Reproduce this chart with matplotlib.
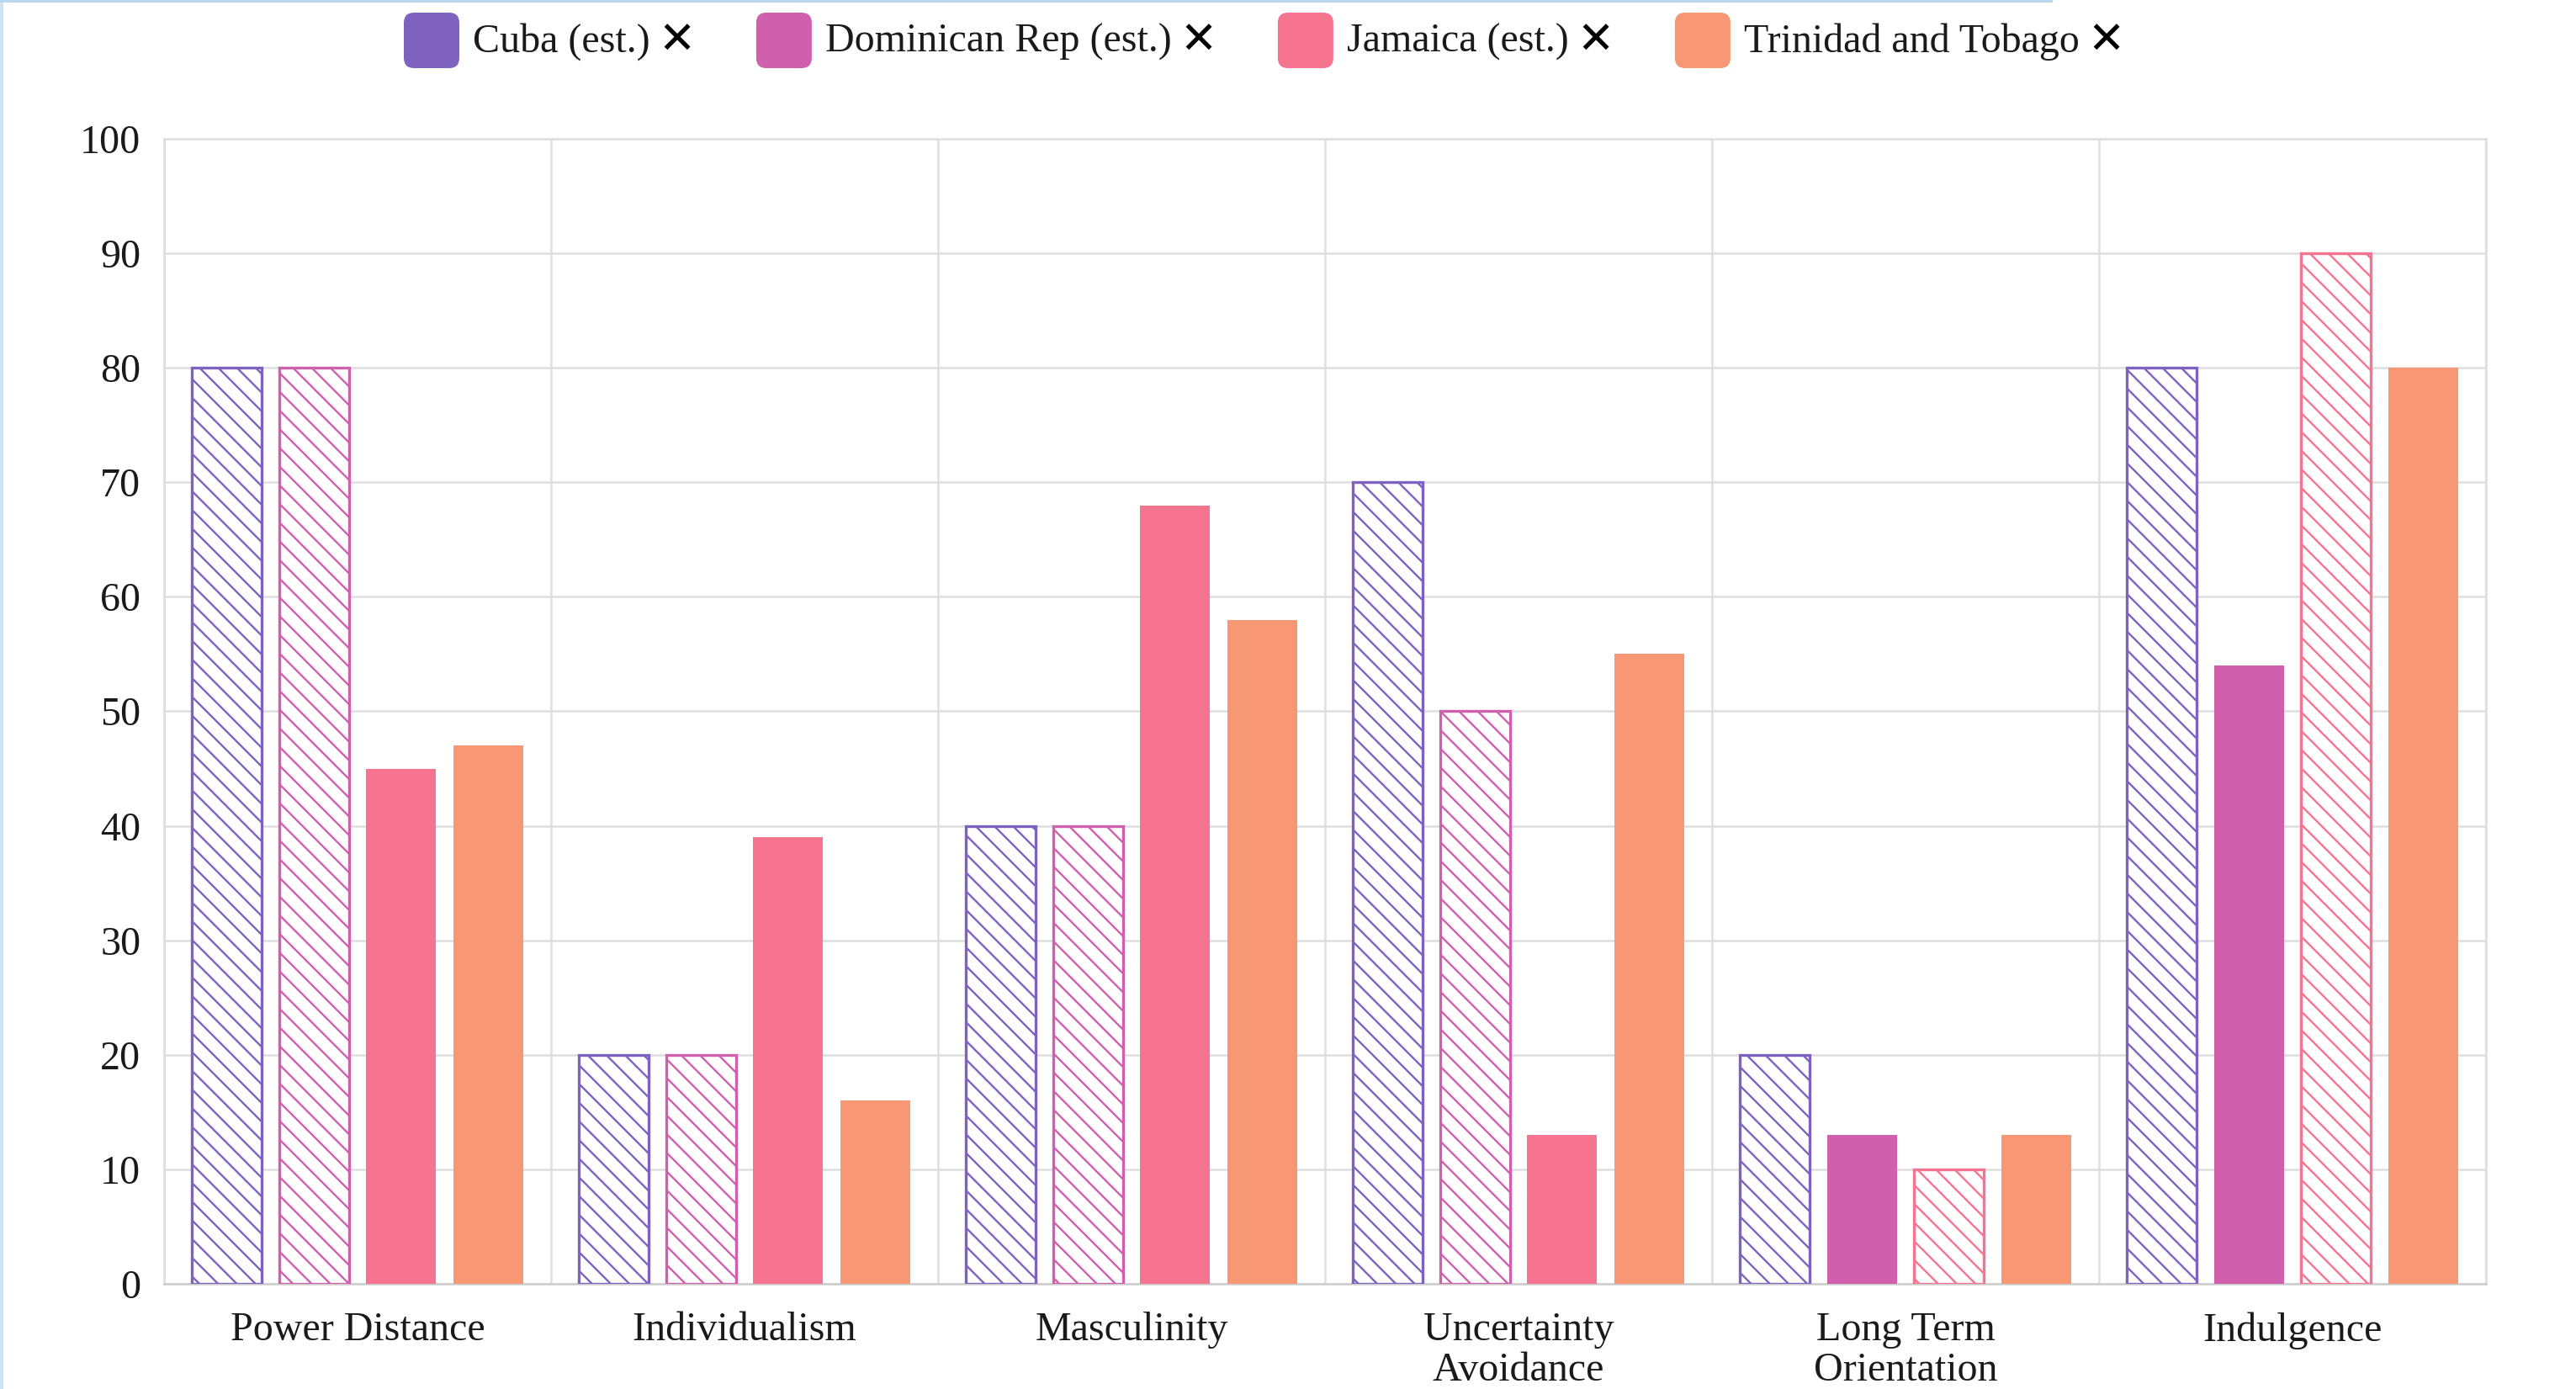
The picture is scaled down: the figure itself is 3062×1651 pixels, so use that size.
import matplotlib
matplotlib.use("Agg")
import matplotlib.pyplot as plt
import numpy as np
from matplotlib.patches import FancyBboxPatch, Rectangle

# ---- data -------------------------------------------------------------
categories = ["Power Distance", "Individualism", "Masculinity",
              "Uncertainty\nAvoidance", "Long Term\nOrientation", "Indulgence"]
series_names = ["Cuba (est.)", "Dominican Rep (est.)", "Jamaica (est.)",
                "Trinidad and Tobago"]
cuba = [80, 20, 40, 70, 20, 80]
dominican = [80, 20, 40, 50, 13, 54]
jamaica = [45, 39, 68, 13, 10, 90]
trinidad = [47, 16, 58, 55, 13, 80]
# True where the score is an estimate (drawn hatched)
cuba_est = [True, True, True, True, True, True]
dominican_est = [True, True, True, True, False, False]
jamaica_est = [False, False, False, False, True, True]
trinidad_est = [False, False, False, False, False, False]
y_ticks = [0, 10, 20, 30, 40, 50, 60, 70, 80, 90, 100]

colors = ["#7f62c0", "#d060ad", "#f77490", "#f89773"]

# ---- style ------------------------------------------------------------
FONT = ["Liberation Serif", "DejaVu Serif"]
plt.rcParams["font.family"] = FONT
plt.rcParams["hatch.linewidth"] = 0.85
FS = 17.3
GRID = "#dedede"

W, H, DPI = 3062, 1651, 200
fig = plt.figure(figsize=(W / DPI, H / DPI), dpi=DPI)
fig.patch.set_facecolor("white")

ax_l, ax_r, ax_t, ax_b = 195, 2955, 165, 1526
ax = fig.add_axes([ax_l / W, 1 - ax_b / H, (ax_r - ax_l) / W, (ax_b - ax_t) / H])

values = [cuba, dominican, jamaica, trinidad]
estimates = [cuba_est, dominican_est, jamaica_est, trinidad_est]

n = len(series_names)
slot = 0.9 / n
bar_w = slot * 0.8
x = np.arange(len(categories))
for i, (vals, est, col) in enumerate(zip(values, estimates, colors)):
    offs = (i - (n - 1) / 2) * slot
    for xi, v, e in zip(x, vals, est):
        if e:
            ax.bar(xi + offs, v, width=bar_w, facecolor="white", edgecolor=col,
                   hatch="\\\\\\", linewidth=1.2, zorder=3)
        else:
            ax.bar(xi + offs, v, width=bar_w, color=col, linewidth=0, zorder=3)

ax.set_xlim(-0.5, len(categories) - 0.5)
ax.set_ylim(0, 100)
ax.set_yticks(y_ticks)
ax.set_yticklabels([str(t) for t in y_ticks])
ax.set_xticks(x)
ax.set_xticklabels(categories, linespacing=1.12)
ax.set_xticks(np.arange(-0.5, len(categories)), minor=True)
ax.tick_params(axis="both", which="both", length=0, labelsize=FS,
               labelcolor="#1a1a1a")
ax.tick_params(axis="y", pad=10)
ax.tick_params(axis="x", pad=12)
ax.grid(axis="y", which="major", color=GRID, linewidth=0.9, zorder=0)
ax.grid(axis="x", which="minor", color=GRID, linewidth=0.9, zorder=0)
ax.grid(axis="x", which="major", visible=False)
for s in ax.spines.values():
    s.set_color(GRID)
    s.set_linewidth(0.9)
ax.spines["bottom"].set_color("#cccccc")

# ---- legend -----------------------------------------------------------
renderer = fig.canvas.get_renderer()
box = 66
y_mid = 48
cur = 480
for name, col in zip(series_names, colors):
    fig.patches.append(FancyBboxPatch(
        (cur / W, 1 - (y_mid + box / 2) / H), box / W, box / H,
        boxstyle="round,pad=0,rounding_size=0.004",
        transform=fig.transFigure, facecolor=col, edgecolor="none",
        mutation_aspect=W / H))
    cur += box + 16
    t = fig.text(cur / W, 1 - (y_mid + 2) / H, name, fontsize=FS, color="#1a1a1a",
                 va="center", ha="left")
    bb = t.get_window_extent(renderer)
    cur = bb.x1 + 10
    xt = fig.text(cur / W, 1 - y_mid / H, "\u2715", fontsize=19,
                  family="DejaVu Sans", fontweight="bold", color="black",
                  va="center", ha="left")
    bb = xt.get_window_extent(renderer)
    cur = bb.x1 + 72

# thin window frame along the left and top edges
fig.patches.append(Rectangle((0, 0), 4 / W, 1, transform=fig.transFigure,
                             facecolor="#cfe2f3", edgecolor="none"))
fig.patches.append(Rectangle((0, 1 - 3 / H), 2440 / W, 3 / H,
                             transform=fig.transFigure,
                             facecolor="#b8d6ee", edgecolor="none"))

fig.savefig("out.png", dpi=DPI, facecolor="white")
